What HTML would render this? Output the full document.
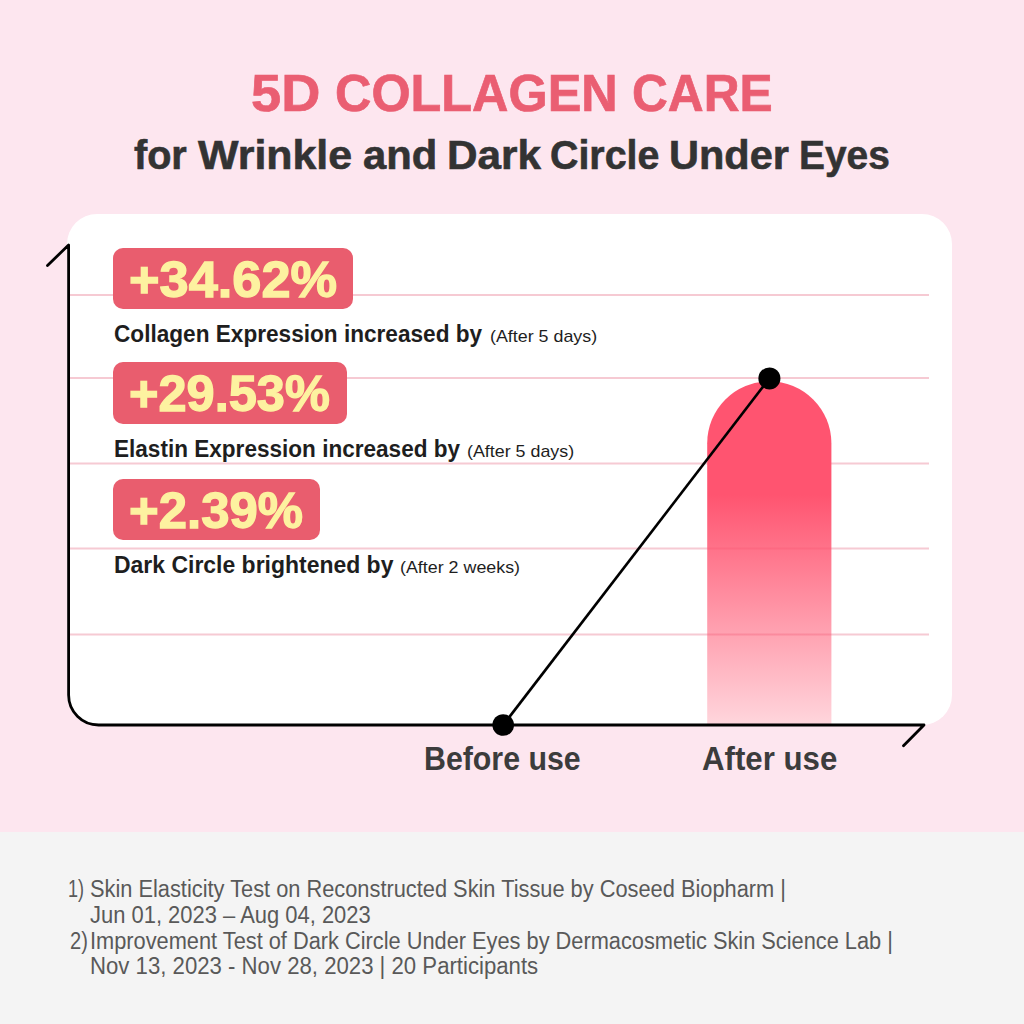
<!DOCTYPE html>
<html>
<head>
<meta charset="utf-8">
<style>
html,body{margin:0;padding:0;}
body{width:1024px;height:1024px;position:relative;overflow:hidden;background:#fde6ef;font-family:"Liberation Sans",sans-serif;}
.t{position:absolute;white-space:nowrap;line-height:1;transform-origin:0 0;}
#footer{position:absolute;left:0;top:832px;width:1024px;height:192px;background:#f4f4f4;}
#card{position:absolute;left:67px;top:214px;width:884.5px;height:511px;background:#fff;border-radius:30px;}
.badge{position:absolute;left:113px;background:#e95d6e;border-radius:10px;}
</style>
</head>
<body>
<div id="footer"></div>
<div id="card"></div>
<svg width="1024" height="1024" style="position:absolute;left:0;top:0">
  <defs>
    <linearGradient id="bg" x1="0" y1="0" x2="0" y2="1">
      <stop offset="0" stop-color="#ff5470"/><stop offset="0.33" stop-color="#ff5470"/><stop offset="1" stop-color="#ff5470" stop-opacity="0.24"/>
    </linearGradient>
  </defs>
  <g stroke="#f6cad3" stroke-opacity="1" stroke-width="2">
    <line x1="70" y1="295" x2="929" y2="295"/>
    <line x1="70" y1="378" x2="929" y2="378"/>
    <line x1="70" y1="463.5" x2="929" y2="463.5"/>
    <line x1="70" y1="548.5" x2="929" y2="548.5"/>
    <line x1="70" y1="634.6" x2="929" y2="634.6"/>
  </g>
  <path d="M707.2 725 V443.3 A62.1 62.1 0 0 1 831.4 443.3 V725 Z" fill="url(#bg)"/>
  <path d="M47.5 265.5 L68.6 245 V695 A30 30 0 0 0 98.6 725 H924 L903.5 745.8" fill="none" stroke="#000" stroke-width="2.8" stroke-linecap="round" stroke-linejoin="round"/>
  <line x1="503.2" y1="725" x2="769.4" y2="378.4" stroke="#000" stroke-width="2.6"/>
  <circle cx="503.2" cy="725" r="10.8" fill="#000"/>
  <circle cx="769.4" cy="378.4" r="11" fill="#000"/>
</svg>
<div class="badge" style="top:248.1px;width:240px;height:61.4px;"></div>
<div class="badge" style="top:362.2px;width:234px;height:61.5px;"></div>
<div class="badge" style="top:478.7px;width:207px;height:61.8px;"></div>
<div class="t" id="t1" style="left:251.22px;top:68px;font-size:51.4px;color:#ea5e72;font-weight:bold;transform:scaleX(1.0543);-webkit-text-stroke:0.7px #ea5e72;">5D</div>
<div class="t" id="t2" style="left:335.24px;top:68px;font-size:51.4px;color:#ea5e72;font-weight:bold;transform:scaleX(0.9803);-webkit-text-stroke:0.7px #ea5e72;">COLLAGEN</div>
<div class="t" id="t3" style="left:632.04px;top:68px;font-size:51.4px;color:#ea5e72;font-weight:bold;transform:scaleX(0.9664);-webkit-text-stroke:0.7px #ea5e72;">CARE</div>
<div class="t" id="s1" style="left:134.0px;top:135px;font-size:40px;color:#333333;font-weight:bold;transform:scaleX(0.9898);-webkit-text-stroke:0.6px #333333;">for</div>
<div class="t" id="s2" style="left:197.94px;top:135px;font-size:40px;color:#333333;font-weight:bold;transform:scaleX(1.0722);-webkit-text-stroke:0.6px #333333;">Wrinkle</div>
<div class="t" id="s3" style="left:362.78px;top:135px;font-size:40px;color:#333333;font-weight:bold;transform:scaleX(1.0435);-webkit-text-stroke:0.6px #333333;">and</div>
<div class="t" id="s4" style="left:446.7px;top:135px;font-size:40px;color:#333333;font-weight:bold;transform:scaleX(1.057);-webkit-text-stroke:0.6px #333333;">Dark</div>
<div class="t" id="s5" style="left:550.1px;top:135px;font-size:40px;color:#333333;font-weight:bold;transform:scaleX(0.9836);-webkit-text-stroke:0.6px #333333;">Circle</div>
<div class="t" id="s6" style="left:669.24px;top:135px;font-size:40px;color:#333333;font-weight:bold;transform:scaleX(1.0383);-webkit-text-stroke:0.6px #333333;">Under</div>
<div class="t" id="s7" style="left:799.13px;top:135px;font-size:40px;color:#333333;font-weight:bold;transform:scaleX(0.9715);-webkit-text-stroke:0.6px #333333;">Eyes</div>
<div class="t" id="p1" style="left:129px;top:255.4px;font-size:50px;color:#fdf2a0;font-weight:bold;transform:scaleX(1.047);-webkit-text-stroke:1.3px #fdf2a0;">+34.62%</div>
<div class="t" id="p2" style="left:129px;top:369.4px;font-size:50px;color:#fdf2a0;font-weight:bold;transform:scaleX(1.0103);-webkit-text-stroke:1.3px #fdf2a0;">+29.53%</div>
<div class="t" id="p3" style="left:129px;top:486.4px;font-size:50px;color:#fdf2a0;font-weight:bold;transform:scaleX(1.018);-webkit-text-stroke:1.3px #fdf2a0;">+2.39%</div>
<div class="t" id="l1" style="left:114px;top:322.8px;font-size:23.5px;color:#1e1e1e;font-weight:bold;transform:scaleX(0.962);">Collagen Expression increased by</div>
<div class="t" id="q1" style="left:490px;top:327.5px;font-size:17px;color:#1e1e1e;transform:scaleX(1.05);">(After 5 days)</div>
<div class="t" id="l2" style="left:114px;top:438.1px;font-size:23.5px;color:#1e1e1e;font-weight:bold;transform:scaleX(0.96);">Elastin Expression increased by</div>
<div class="t" id="q2" style="left:467px;top:442.8px;font-size:17px;color:#1e1e1e;transform:scaleX(1.05);">(After 5 days)</div>
<div class="t" id="l3" style="left:114px;top:554.1px;font-size:23.5px;color:#1e1e1e;font-weight:bold;transform:scaleX(0.977);">Dark Circle brightened by</div>
<div class="t" id="q3" style="left:400px;top:558.8px;font-size:17px;color:#1e1e1e;transform:scaleX(1.05);">(After 2 weeks)</div>
<div class="t" id="before" style="left:423.5px;top:741.7px;font-size:33.5px;color:#3c3c3c;font-weight:bold;transform:scaleX(0.905);">Before use</div>
<div class="t" id="after" style="left:702px;top:741.5px;font-size:33.5px;color:#3c3c3c;font-weight:bold;transform:scaleX(0.932);">After use</div>
<div class="t" id="f1a" style="left:67.79px;top:877.8px;font-size:23px;color:#595959;transform:scaleX(0.7849);">1)</div>
<div class="t" id="f1b" style="left:90.4px;top:877.8px;font-size:23px;color:#595959;transform:scaleX(0.9478);">Skin Elasticity Test on Reconstructed Skin Tissue by Coseed Biopharm |</div>
<div class="t" id="f2" style="left:89.8px;top:904px;font-size:23px;color:#595959;transform:scaleX(0.9544);">Jun 01, 2023 – Aug 04, 2023</div>
<div class="t" id="f3a" style="left:70.32px;top:929.8px;font-size:23px;color:#595959;transform:scaleX(0.8738);">2)</div>
<div class="t" id="f3b" style="left:90.4px;top:929.8px;font-size:23px;color:#595959;transform:scaleX(0.9469);">Improvement Test of Dark Circle Under Eyes by Dermacosmetic Skin Science Lab |</div>
<div class="t" id="f4" style="left:89.8px;top:955.4px;font-size:23px;color:#595959;transform:scaleX(0.9639);">Nov 13, 2023 - Nov 28, 2023 | 20 Participants</div>
</body>
</html>
